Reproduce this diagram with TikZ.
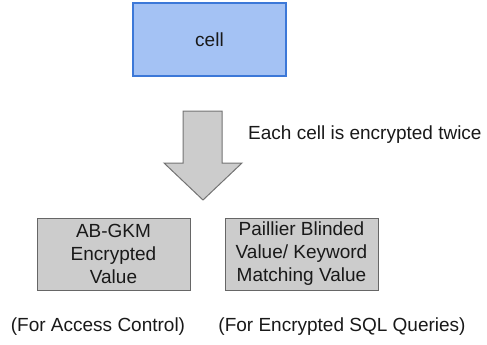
\documentclass[tikz,border=0pt]{standalone}
\usepackage{fontspec}
\setmainfont{Liberation Sans}
\begin{document}
\begin{tikzpicture}[x=1pt,y=-1pt,
  txt/.style={font=\fontsize{19}{23}\selectfont, text=black!90, inner sep=0pt},
  cellbox/.style={draw=blue!60!cyan!70!black, line width=1.3pt, fill=cellblue, minimum width=153pt, minimum height=73pt, txt},
  graybox/.style={draw=black!60, line width=1pt, fill=black!20, minimum width=153pt, minimum height=72pt, align=center, txt},
  bigarrow/.style={draw=black!55, line width=1pt, fill=black!20, line join=miter}
]
\definecolor{cellblue}{HTML}{A4C2F4}
\colorlet{cellborder}{blue!60!cyan!70!black}
\useasboundingbox (0,0) rectangle (487,345);
\node[cellbox, draw={rgb,255:red,60;green,120;blue,216}] (cell) at (209.5,39.5) {cell};
\draw[bigarrow] (183,111) -- (222,111) -- (222,163) -- (242,163) -- (203,200) -- (164,163) -- (183,163) -- cycle;
\node[txt, anchor=west] (note) at (248,135) {Each cell is encrypted twice};
\node[graybox] (abgkm) at (113.5,254) {AB-GKM\\Encrypted\\Value};
\node[graybox] (paillier) at (301.5,254) {Paillier Blinded\\Value/ Keyword\\Matching Value};
\node[txt] (cap1) at (98,327) {(For Access Control)};
\node[txt] (cap2) at (342,327) {(For Encrypted SQL Queries)};
\end{tikzpicture}
\end{document}
